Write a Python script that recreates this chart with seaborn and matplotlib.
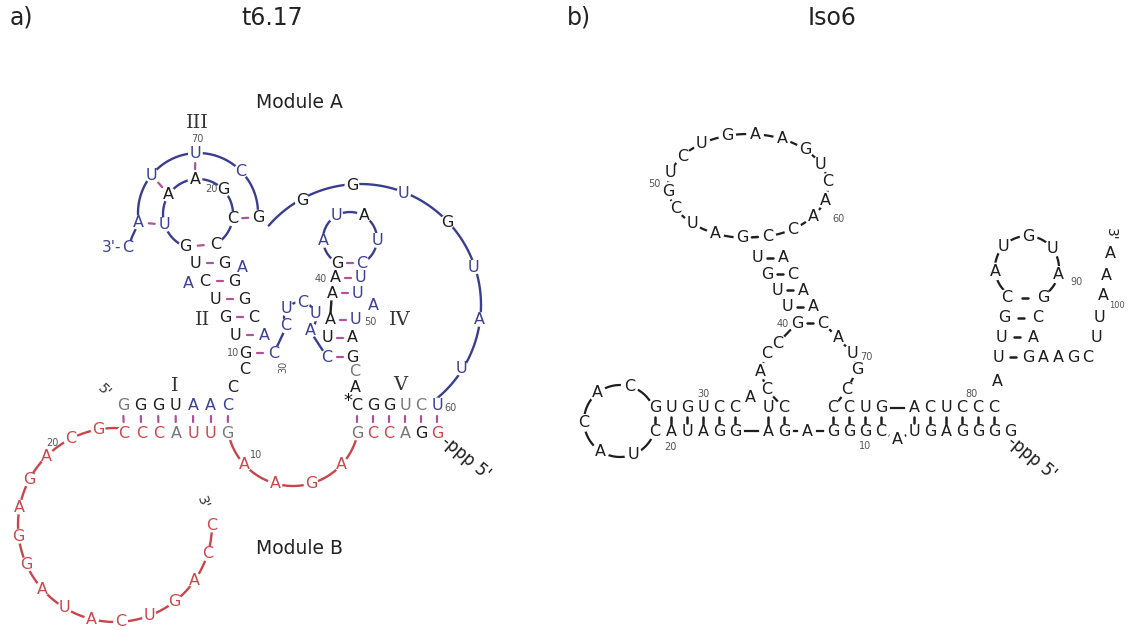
import numpy as np
import pandas as pd
import matplotlib
matplotlib.use("Agg")
import matplotlib.pyplot as plt
import seaborn as sns

# ============================
# Sequences (letter strings) and module code per letter
# k = plain, g = grey, b = module A, r = module B
# ============================
# a) t6.17
a_s1_top, a_s1_top_mod = "GGGUAAC", "gkkkbbb"
a_s1_bot, a_s1_bot_mod = "CCCAUUG", "rrrgrrg"
a_s5_top, a_s5_top_mod = "CGGUCU", "kkkggb"
a_s5_bot, a_s5_bot_mod = "GCCAGG", "grrgkr"
a_loopB, a_loopB_mod = "GCAGAGGAUACUGACC", "r" * 16
a_loop10, a_loop10_mod = "AAGA", "rrrr"
a_ring_out, a_ring_out_mod = "AUUCG", "bbbbk"
a_ring_in, a_ring_in_mod = "AGCCGUA", "kkkkkbk"
a_s2_left, a_s2_left_mod = "UCUGUG", "kkkkkk"
a_s2_right, a_s2_right_mod = "GGGCAC", "kkkkbb"
a_bulge2, a_bulge2_mod = "AA", "bb"
a_link2, a_link2_mod = "CC", "kk"
a_j34, a_j34_mod = "CUCUA", "bbbbb"
a_s4_left, a_s4_left_mod = "CUAAAG", "bkkkkk"
a_s4_right, a_s4_right_mod = "GAUUUC", "kkbbbb"
a_loop4, a_loop4_mod = "AUAU", "bbkb"
a_bulge4, a_bulge4_mod = "A", "b"
a_link45, a_link45_mod = "CA", "gk"
a_arc, a_arc_mod = "GGUGUAU", "kkbkbbb"
a_end3, a_end3_mod = "C", "b"

# b) Iso6 (all plain)
b_loopL = "CACAU"
b_h1_top, b_h1_bot = "GUGUCC", "CAUAGG"
b_a33 = "A"
b_h2_top, b_h2_bot = "UC", "AG"
b_a13 = "A"
b_junc_left = "CACC"
b_stem_left, b_stem_right = "GUUGU", "CAACA"
b_loopT = "AUCGUCUGAAGUCAAC"
b_loopT_close = "GC"
b_junc_right = "AUGC"
b_h3_top, b_h3_bot = "CCUG", "GGGC"
b_a8 = "A"
b_h4_top, b_h4_bot = "ACUCCC", "UGAGGGG"
b_a83 = "A"
b_stemR_left, b_stemR_right = "UUGC", "GACG"
b_loopR = "AUGUA"
b_tail1, b_tail2 = "AAGC", "UUAAA"

domains = ["I", "II", "III", "IV", "V"]


# ============================
# Layout helpers
# ============================
def row(n, x0, y0, dx, dy=0.0):
    i = np.arange(n)
    return np.column_stack([x0 + dx * i, y0 + dy * i])


def ring(n, cx, cy, rx, ry, a0, a1):
    t = np.radians(np.linspace(a0, a1, n))
    return np.column_stack([cx + rx * np.cos(t), cy - ry * np.sin(t)])


letters, lines = [], []
seg = [0]


def put(seq, mod, pts, panel):
    for ch, m, (x, y) in zip(seq, mod, np.asarray(pts, float)):
        letters.append(dict(x=x, y=y, ch=ch, mod=m, panel=panel))


def line(pts, kind):
    seg[0] += 1
    for x, y in np.asarray(pts, float):
        lines.append(dict(x=x, y=y, seg=seg[0], kind=kind))


def tick(p, q, kind, L=6):
    p, q = np.asarray(p, float), np.asarray(q, float)
    m = (p + q) / 2
    d = (q - p) / np.linalg.norm(q - p)
    line([m - d * L / 2, m + d * L / 2], kind)


# ============================
# Panel a layout
# ============================
s1t = row(7, 123, 405, 17.5)
s1b = row(7, 124, 433, 17.3)
s5t = row(6, 357, 405, 16)
s5b = row(6, 357, 433, 16)
lB = ring(16, 115, 525, 97, 97, 100, 360)
l10 = ring(6, 293, 420, 66, 66, 191, 349)[1:-1]
ro = ring(5, 198, 213, 60, 60, 189, -4)
ri = ring(7, 198, 214, 35, 35, 95, 95 - 6 * 360 / 7)
s2l = row(6, 195, 263, 10, 18)
s2r = s2l + [29, 0]
bu2 = np.array([[242, 267], [188, 283]])
c2 = np.array([[245, 369], [233, 387]])
j34 = ring(5, 300, 318, 16, 16, 210, -50)
s4l = np.array([[327, 357], [327, 338], [330, 320], [332, 293], [335, 278], [337, 263]])
s4r = s4l + [25, 0]
l4 = ring(6, 350, 239, 27, 27, 245, -65)[1:-1]
bu4 = np.array([[373, 305]])
c45 = np.array([[355, 371], [355, 387]])
arcA = ring(7, 360, 305, 120, 120, 119, -32)
end3 = np.array([[128, 248]])

for seq, mod, pts in [
    (a_s1_top, a_s1_top_mod, s1t), (a_s1_bot, a_s1_bot_mod, s1b),
    (a_s5_top, a_s5_top_mod, s5t), (a_s5_bot, a_s5_bot_mod, s5b),
    (a_loopB, a_loopB_mod, lB), (a_loop10, a_loop10_mod, l10),
    (a_ring_out, a_ring_out_mod, ro), (a_ring_in, a_ring_in_mod, ri),
    (a_s2_left, a_s2_left_mod, s2l), (a_s2_right, a_s2_right_mod, s2r),
    (a_bulge2, a_bulge2_mod, bu2), (a_link2, a_link2_mod, c2),
    (a_j34, a_j34_mod, j34), (a_s4_left, a_s4_left_mod, s4l),
    (a_s4_right, a_s4_right_mod, s4r), (a_loop4, a_loop4_mod, l4),
    (a_bulge4, a_bulge4_mod, bu4), (a_link45, a_link45_mod, c45),
    (a_arc, a_arc_mod, arcA), (a_end3, a_end3_mod, end3),
]:
    put(seq, mod, pts, "a")

# backbone lines
line(ring(90, 360, 305, 121, 121, 139, -52), "blue")
line(np.vstack([end3, [[132, 237]], ring(60, 198, 213, 60, 60, 189, -4)]), "blue")
line(ring(90, 198, 214, 35, 35, -59, 249), "blue")
line(np.vstack([s2r[-1:], ring(30, 300, 318, 16, 16, 212, -52), s4l[:1]]), "blue")
line(ring(40, 350, 239, 27, 27, 245, -65), "blue")
line([s4l[2], s4l[3]], "dark")
line(ring(90, 115, 525, 97, 97, 84, 360), "red")
line(ring(60, 293, 420, 66, 66, 191, 349), "red")

# base-pair ticks
for p, q in zip(s1t, s1b):
    tick(p, q, "pink")
for p, q in zip(s5t, s5b):
    tick(p, q, "pink")
for p, q in zip(s2l, s2r):
    tick(p, q, "pink")
for p, q in zip(s4l, s4r):
    tick(p, q, "pink")
for p, q in [(ro[2], ri[0]), (ro[1], ri[6]), (ro[0], ri[5]), (ri[2], ro[4]), (ri[4], ri[3])]:
    tick(p, q, "pink")

# ============================
# Panel b layout
# ============================
lL = ring(7, 620, 421, 36, 36, 20, 346)[1:-1]
h1t = row(6, 655, 408, 16)
h1b = row(6, 655, 431, 16)
a33 = np.array([[750, 398]])
h2t = row(2, 768, 408, 16)
h2b = row(2, 768, 431, 16)
a13 = np.array([[807, 431]])
jl = np.array([[767, 390], [760, 371], [767, 354], [778, 343]])
sl = row(5, 797, 323, -10, -16.3)
sr = sl + [26, 0]
lT = ring(18, 748, 186, 80, 52, 266, -76)
jr = np.array([[838, 338], [852, 353], [857, 370], [847, 390]])
h3t = row(4, 833, 408, 16)
h3b = row(4, 833, 431, 16)
a8 = np.array([[897, 440]])
h4t = row(6, 914, 408, 16)
h4b = row(7, 914, 431, 16)
a83 = np.array([[997, 381]])
srl = row(4, 998, 357, 3, -19.7)
srr = row(4, 1028, 357, 5, -19.7)
lR = ring(7, 1027, 268, 32, 32, 236, -62)[1:-1]
t1 = row(4, 1043, 357, 15)
t2 = row(5, 1096, 338, 3.5, -21)

loopT_full = b_loopT_close[0] + b_loopT + b_loopT_close[1]
for seq, pts in [
    (b_loopL, lL), (b_h1_top, h1t), (b_h1_bot, h1b), (b_a33, a33),
    (b_h2_top, h2t), (b_h2_bot, h2b), (b_a13, a13), (b_junc_left, jl),
    (b_stem_left, sl), (b_stem_right, sr), (loopT_full, lT),
    (b_junc_right, jr), (b_h3_top, h3t), (b_h3_bot, h3b), (b_a8, a8),
    (b_h4_top, h4t), (b_h4_bot, h4b), (b_a83, a83),
    (b_stemR_left, srl), (b_stemR_right, srr), (b_loopR, lR),
    (b_tail1, t1), (b_tail2, t2),
]:
    put(seq, "k" * len(seq), pts, "b")

line(ring(60, 620, 421, 36, 36, 20, 346), "black")
line(ring(120, 748, 186, 80, 52, 266, -76), "black")
line(np.vstack([h2t[1:], jl, sl[:1]]), "black")
line(np.vstack([sr[:1], jr, h3t[:1]]), "black")
line([h1b[5], h2b[0]], "black")
line(np.vstack([h2b[1:], a13, h3b[:1]]), "black")
line([h3t[3], h4t[0]], "black")
line(np.vstack([h3b[3:], a8, h4b[:1]]), "black")
line(ring(60, 1027, 268, 32, 32, 236, -62), "black")

for top, bot in [(h1t, h1b), (h2t, h2b), (h3t, h3b), (h4t, h4b)]:
    for p, q in zip(top, bot):
        tick(p, q, "btick")
for p, q in zip(sl, sr):
    tick(p, q, "btick")
tick(lT[0], lT[-1], "btick")
for p, q in zip(srl, srr):
    tick(p, q, "btick")

# ============================
# Plot
# ============================
sns.set_theme(style="white")
plt.rcParams["font.family"] = ["DejaVu Sans"]

fig = plt.figure(figsize=(11.28, 6.3), dpi=100)
ax = fig.add_axes([0, 0, 1, 1])

line_df = pd.DataFrame(lines)
let_df = pd.DataFrame(letters)

LINE_STYLE = {
    "blue": ("#3a3e8f", 1.7, 1),
    "red": ("#c8464b", 1.7, 1),
    "dark": ("#222222", 1.7, 1),
    "pink": ("#b0529a", 1.6, 4),
    "black": ("#1e1e1e", 1.6, 1),
    "btick": ("#1e1e1e", 1.8, 4),
}
for kind, (col, lw, z) in LINE_STYLE.items():
    sub = line_df[line_df["kind"] == kind]
    if len(sub):
        sns.lineplot(data=sub, x="x", y="y", units="seg", estimator=None,
                     sort=False, color=col, lw=lw, ax=ax, zorder=z, legend=False)

# white masks under letters so backbone lines stop short of them
sns.scatterplot(data=let_df[let_df["panel"] == "a"], x="x", y="y", s=115,
                color="white", edgecolor="none", ax=ax, zorder=2, legend=False)
sns.scatterplot(data=let_df[let_df["panel"] == "b"], x="x", y="y", s=165,
                color="white", edgecolor="none", ax=ax, zorder=2, legend=False)

COL = {"k": "#1d1d1d", "g": "#777777", "b": "#3b3f96", "r": "#cc474c"}
for r in let_df.itertuples():
    ax.text(r.x, r.y, r.ch, color=COL[r.mod], fontsize=11.5,
            ha="center", va="center", zorder=3)

# small position numbers
num = dict(fontsize=7, color="#555555", va="center", zorder=3)
ax.text(197, 139, "70", ha="center", **num)
ax.text(211, 189, "20", ha="center", **num)
ax.text(239, 353, "10", ha="right", **num)
ax.text(283, 367, "30", ha="center", rotation=90, **num)
ax.text(327, 279, "40", ha="right", **num)
ax.text(364, 322, "50", ha="left", **num)
ax.text(444, 408, "60", ha="left", **num)
ax.text(256, 455, "10", ha="center", **num)
ax.text(52, 443, "20", ha="center", **num)
ax.text(661, 184, "50", ha="right", **num)
ax.text(832, 219, "60", ha="left", **num)
ax.text(789, 324, "40", ha="right", **num)
ax.text(860, 357, "70", ha="left", **num)
ax.text(972, 394, "80", ha="center", **num)
ax.text(1070, 282, "90", ha="left", **num)
ax.text(1117, 305, "100", ha="center", fontsize=6, color="#555555", va="center", zorder=3)
ax.text(865, 446, "10", ha="center", **num)
ax.text(670, 447, "20", ha="center", **num)
ax.text(703, 394, "30", ha="center", **num)

# domain numerals
rom = dict(fontsize=14, family="DejaVu Serif", color="#333333",
           ha="center", va="center", zorder=3)
for name, (x, y) in zip(domains, [(175, 386), (203, 320), (197, 123), (400, 320), (400, 385)]):
    ax.text(x, y, name, **rom)

# ends and other marks
ax.text(121, 248, "3'-", fontsize=11, color="#3b3f96", ha="right", va="center", zorder=3)
ax.text(104, 391, "5'", fontsize=10, color="#333333", ha="center", va="center", rotation=-45, zorder=3)
ax.text(203, 503, "3'", fontsize=10, color="#333333", ha="center", va="center", rotation=-70, zorder=3)
ax.text(348, 401, "*", fontsize=13, color="#111111", ha="center", va="center", zorder=3)
ax.text(444, 439, "-ppp 5'", fontsize=12, color="#1d1d1d", ha="left", va="center",
        rotation=-40, rotation_mode="anchor", zorder=3)
ax.text(1010, 439, "-ppp 5'", fontsize=12, color="#1d1d1d", ha="left", va="center",
        rotation=-40, rotation_mode="anchor", zorder=3)
ax.text(1111, 234, "3'", fontsize=10, color="#1d1d1d", ha="center", va="center", rotation=-90, zorder=3)

# titles
ax.text(10, 18, "a)", fontsize=17, color="#222222", ha="left", va="center")
ax.text(272, 18, "t6.17", fontsize=17, color="#222222", ha="center", va="center")
ax.text(567, 18, "b)", fontsize=17, color="#222222", ha="left", va="center")
ax.text(832, 18, "Iso6", fontsize=17, color="#222222", ha="center", va="center")
ax.text(299, 103, "Module A", fontsize=13.5, color="#222222", ha="center", va="center")
ax.text(299, 548, "Module B", fontsize=13.5, color="#222222", ha="center", va="center")

ax.set_xlim(0, 1128)
ax.set_ylim(630, 0)
ax.set_axis_off()

fig.savefig("out.png", dpi=100, facecolor="white")
